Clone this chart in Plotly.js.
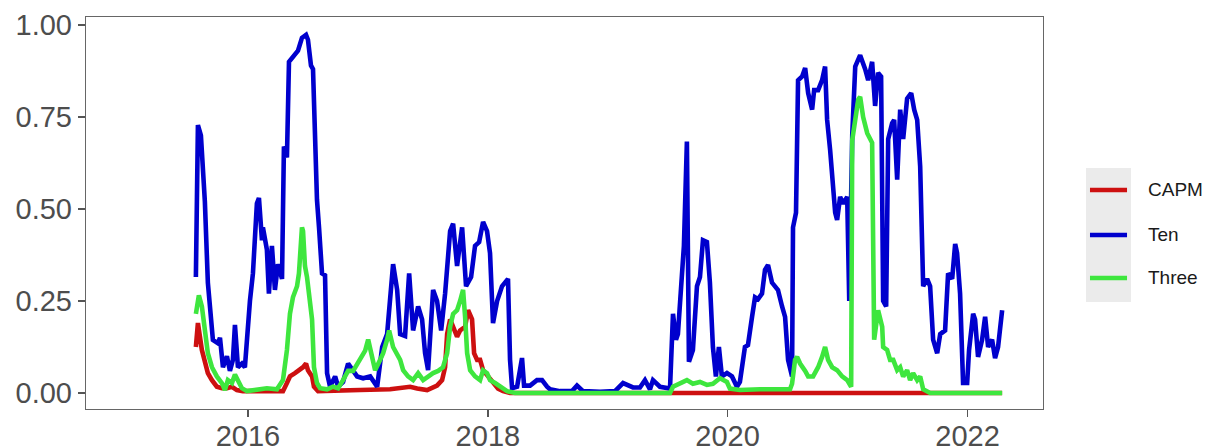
<!DOCTYPE html>
<html>
<head>
<meta charset="utf-8">
<script src="https://cdn.plot.ly/plotly-3.0.1.min.js"></script>
<style>html,body{margin:0;padding:0;background:#fff;}#chart{width:1210px;height:448px;}</style>
</head>
<body>
<div id="chart"></div>
<script>
// ---- data (x in decimal years, y = value) ----
const seriesNames = ["CAPM", "Ten", "Three"];

const capmYears = [2015.566,2015.583,2015.616,2015.641,2015.666,2015.700,2015.741,2015.783,2015.825,2015.867,2015.908,2015.958,2016.292,2016.325,2016.350,2016.392,2016.434,2016.459,2016.484,2016.500,2016.534,2016.550,2016.584,2016.792,2016.934,2017.184,2017.268,2017.351,2017.410,2017.493,2017.576,2017.618,2017.643,2017.660,2017.685,2017.710,2017.743,2017.768,2017.810,2017.835,2017.868,2017.885,2017.910,2017.935,2017.960,2018.002,2018.043,2018.085,2018.127,2018.185,2022.289];
const capmValues = [0.125,0.19,0.117,0.08,0.054,0.035,0.017,0.013,0.013,0.017,0.008,0.005,0.005,0.027,0.045,0.054,0.062,0.07,0.08,0.062,0.045,0.017,0.005,0.005,0.008,0.01,0.012,0.017,0.012,0.008,0.02,0.035,0.07,0.16,0.20,0.18,0.153,0.17,0.18,0.225,0.20,0.108,0.09,0.09,0.062,0.045,0.027,0.012,0.005,0,0];

const tenYears = [2015.566,2015.583,2015.608,2015.641,2015.666,2015.708,2015.750,2015.767,2015.792,2015.825,2015.850,2015.875,2015.892,2015.917,2015.950,2015.975,2016.017,2016.042,2016.075,2016.092,2016.117,2016.125,2016.158,2016.175,2016.200,2016.225,2016.250,2016.284,2016.300,2016.325,2016.342,2016.375,2016.417,2016.450,2016.484,2016.500,2016.525,2016.542,2016.575,2016.592,2016.617,2016.642,2016.659,2016.684,2016.726,2016.751,2016.792,2016.834,2016.876,2016.909,2016.959,2017.018,2017.076,2017.118,2017.159,2017.209,2017.243,2017.268,2017.309,2017.343,2017.376,2017.418,2017.451,2017.476,2017.501,2017.543,2017.576,2017.610,2017.643,2017.685,2017.710,2017.743,2017.785,2017.818,2017.860,2017.893,2017.927,2017.960,2017.993,2018.018,2018.043,2018.077,2018.118,2018.143,2018.168,2018.185,2018.202,2018.244,2018.285,2018.302,2018.352,2018.410,2018.452,2018.494,2018.519,2018.602,2018.702,2018.744,2018.794,2018.936,2019.061,2019.128,2019.169,2019.211,2019.269,2019.311,2019.353,2019.378,2019.436,2019.520,2019.545,2019.570,2019.586,2019.620,2019.636,2019.661,2019.678,2019.711,2019.745,2019.770,2019.795,2019.828,2019.853,2019.878,2019.903,2019.928,2019.953,2019.995,2020.037,2020.078,2020.103,2020.145,2020.170,2020.204,2020.229,2020.254,2020.287,2020.312,2020.337,2020.370,2020.395,2020.420,2020.454,2020.479,2020.504,2020.537,2020.545,2020.570,2020.587,2020.621,2020.646,2020.671,2020.704,2020.721,2020.754,2020.787,2020.812,2020.829,2020.854,2020.896,2020.912,2020.937,2020.962,2020.996,2021.013,2021.038,2021.063,2021.104,2021.146,2021.171,2021.204,2021.229,2021.254,2021.279,2021.296,2021.321,2021.338,2021.371,2021.388,2021.413,2021.438,2021.463,2021.496,2021.530,2021.555,2021.580,2021.605,2021.630,2021.663,2021.688,2021.713,2021.747,2021.772,2021.813,2021.838,2021.872,2021.897,2021.913,2021.938,2021.963,2021.997,2022.013,2022.047,2022.063,2022.088,2022.122,2022.147,2022.172,2022.205,2022.230,2022.255,2022.289];
const tenValues = [0.315,0.728,0.70,0.52,0.30,0.144,0.135,0.15,0.07,0.10,0.06,0.09,0.185,0.07,0.08,0.07,0.25,0.325,0.515,0.53,0.415,0.45,0.39,0.27,0.40,0.28,0.35,0.31,0.67,0.64,0.90,0.915,0.93,0.965,0.973,0.96,0.89,0.88,0.525,0.45,0.325,0.32,0.054,0.017,0.045,0.017,0.03,0.08,0.06,0.045,0.04,0.045,0.017,0.125,0.16,0.35,0.28,0.16,0.155,0.325,0.17,0.235,0.20,0.108,0.062,0.28,0.25,0.17,0.27,0.44,0.46,0.345,0.45,0.29,0.315,0.40,0.41,0.465,0.44,0.38,0.19,0.25,0.29,0.30,0.31,0.09,0.013,0.017,0.095,0.02,0.02,0.035,0.035,0.017,0.01,0.005,0.005,0.02,0.005,0.003,0.005,0.027,0.02,0.015,0.015,0.035,0.01,0.035,0.017,0.012,0.215,0.145,0.16,0.30,0.40,0.683,0.085,0.117,0.29,0.315,0.415,0.41,0.30,0.125,0.045,0.125,0.045,0.054,0.045,0.017,0.03,0.125,0.13,0.207,0.26,0.255,0.27,0.335,0.348,0.30,0.29,0.28,0.235,0.207,0.09,0.045,0.45,0.49,0.85,0.86,0.883,0.815,0.77,0.823,0.823,0.85,0.887,0.742,0.66,0.49,0.47,0.533,0.515,0.533,0.25,0.70,0.887,0.918,0.88,0.85,0.90,0.78,0.87,0.86,0.25,0.235,0.69,0.733,0.742,0.58,0.77,0.69,0.80,0.815,0.77,0.742,0.615,0.29,0.31,0.29,0.145,0.108,0.16,0.17,0.325,0.31,0.405,0.38,0.27,0.027,0.027,0.117,0.215,0.20,0.098,0.145,0.207,0.125,0.145,0.095,0.125,0.225];

const threeYears = [2015.566,2015.591,2015.616,2015.641,2015.666,2015.700,2015.741,2015.783,2015.808,2015.833,2015.867,2015.892,2015.917,2015.950,2015.992,2016.075,2016.158,2016.242,2016.292,2016.325,2016.350,2016.375,2016.409,2016.425,2016.450,2016.459,2016.475,2016.492,2016.509,2016.534,2016.550,2016.575,2016.601,2016.659,2016.709,2016.751,2016.792,2016.834,2016.876,2016.909,2016.934,2016.976,2017.001,2017.034,2017.059,2017.101,2017.126,2017.159,2017.176,2017.209,2017.243,2017.268,2017.293,2017.334,2017.376,2017.418,2017.460,2017.501,2017.543,2017.585,2017.626,2017.660,2017.685,2017.710,2017.743,2017.768,2017.793,2017.810,2017.827,2017.852,2017.893,2017.935,2017.960,2017.993,2018.018,2018.060,2018.102,2018.160,2018.227,2019.520,2019.545,2019.603,2019.661,2019.711,2019.770,2019.828,2019.878,2019.937,2019.995,2020.020,2020.103,2020.270,2020.437,2020.520,2020.537,2020.562,2020.579,2020.604,2020.646,2020.671,2020.712,2020.754,2020.787,2020.812,2020.837,2020.871,2020.912,2020.954,2020.996,2021.029,2021.038,2021.063,2021.088,2021.104,2021.129,2021.163,2021.188,2021.204,2021.221,2021.238,2021.254,2021.288,2021.296,2021.329,2021.354,2021.380,2021.413,2021.438,2021.463,2021.496,2021.521,2021.546,2021.580,2021.605,2021.630,2021.688,2022.289];
const threeValues = [0.215,0.265,0.235,0.16,0.108,0.07,0.045,0.027,0.008,0.035,0.027,0.05,0.035,0.013,0.005,0.008,0.013,0.01,0.035,0.117,0.215,0.26,0.29,0.325,0.45,0.44,0.345,0.315,0.27,0.20,0.07,0.027,0.013,0.01,0.017,0.013,0.035,0.06,0.06,0.08,0.09,0.115,0.145,0.09,0.062,0.09,0.108,0.145,0.17,0.125,0.108,0.09,0.062,0.045,0.035,0.054,0.035,0.045,0.054,0.06,0.07,0.108,0.18,0.215,0.225,0.25,0.28,0.207,0.108,0.062,0.045,0.035,0.062,0.054,0.035,0.027,0.017,0.005,0,0,0.017,0.025,0.035,0.025,0.03,0.022,0.025,0.04,0.03,0.012,0.008,0.01,0.008,0.01,0.025,0.09,0.098,0.08,0.06,0.045,0.045,0.07,0.098,0.125,0.09,0.07,0.062,0.045,0.035,0.017,0.687,0.75,0.797,0.805,0.75,0.706,0.69,0.68,0.145,0.2,0.225,0.18,0.125,0.117,0.09,0.09,0.062,0.07,0.045,0.062,0.035,0.054,0.035,0.045,0.01,0,0];

const yTickVals = [0, 0.25, 0.5, 0.75, 1];
const yTickText = ["0.00", "0.25", "0.50", "0.75", "1.00"];

// decimal year -> date string
function toDate(y) {
  const yr = Math.floor(y);
  const a = Date.UTC(yr, 0, 1), b = Date.UTC(yr + 1, 0, 1);
  return new Date(a + (y - yr) * (b - a)).toISOString().slice(0, 19).replace('T', ' ');
}

const colors = ["#cd1010", "#0000cd", "#3ee63e"];
const xs = [capmYears, tenYears, threeYears];
const ys = [capmValues, tenValues, threeValues];

const traces = seriesNames.map((n, i) => ({
  type: 'scatter', mode: 'lines', name: n,
  x: xs[i].map(toDate), y: ys[i],
  line: {color: colors[i], width: 4.6}
}));

// legend (ggplot-style key box) built from seriesNames / colors
const keyY = [0.5587, 0.4439, 0.3342];
const legendShapes = [{
  type: 'rect', xref: 'paper', yref: 'paper',
  x0: 1.0449, x1: 1.0920, y0: 0.273, y1: 0.6148,
  fillcolor: '#ebebeb', line: {width: 0}, layer: 'below'
}].concat(seriesNames.map((n, i) => ({
  type: 'line', xref: 'paper', yref: 'paper',
  x0: 1.0491, x1: 1.0878, y0: keyY[i], y1: keyY[i],
  line: {color: colors[i], width: 4.6}
})));
const legendText = seriesNames.map((n, i) => ({
  xref: 'paper', yref: 'paper', x: 1.1076, y: keyY[i],
  xanchor: 'left', yanchor: 'middle', showarrow: false,
  text: n, font: {size: 19, color: '#1a1a1a'}
}));

const layout = {
  width: 1210, height: 448,
  margin: {l: 86, r: 167, t: 17, b: 39, pad: 0},
  paper_bgcolor: '#fff', plot_bgcolor: '#fff',
  font: {family: '"Liberation Sans", Arial, sans-serif', color: '#4d4d4d'},
  xaxis: {
    type: 'date', range: [toDate(2014.649), toDate(2022.630)],
    tick0: '2016-01-01', dtick: 'M24', tickformat: '%Y',
    showgrid: false, zeroline: false,
    showline: true, mirror: true, linecolor: '#666', linewidth: 1.2,
    ticks: 'outside', ticklen: 7, tickwidth: 1.3, tickcolor: '#555',
    ticklabelstandoff: -6,
    tickfont: {size: 29, color: '#4d4d4d'}
  },
  yaxis: {
    range: [-0.0435, 1.0217], tickvals: yTickVals, ticktext: yTickText,
    showgrid: false, zeroline: false,
    showline: true, mirror: true, linecolor: '#666', linewidth: 1.2,
    ticks: 'outside', ticklen: 7, tickwidth: 1.3, tickcolor: '#555',
    tickfont: {size: 29, color: '#4d4d4d'}
  },
  showlegend: false,
  shapes: legendShapes,
  annotations: legendText
};

Plotly.newPlot('chart', traces, layout, {displayModeBar: false, staticPlot: true});
</script>
</body>
</html>
